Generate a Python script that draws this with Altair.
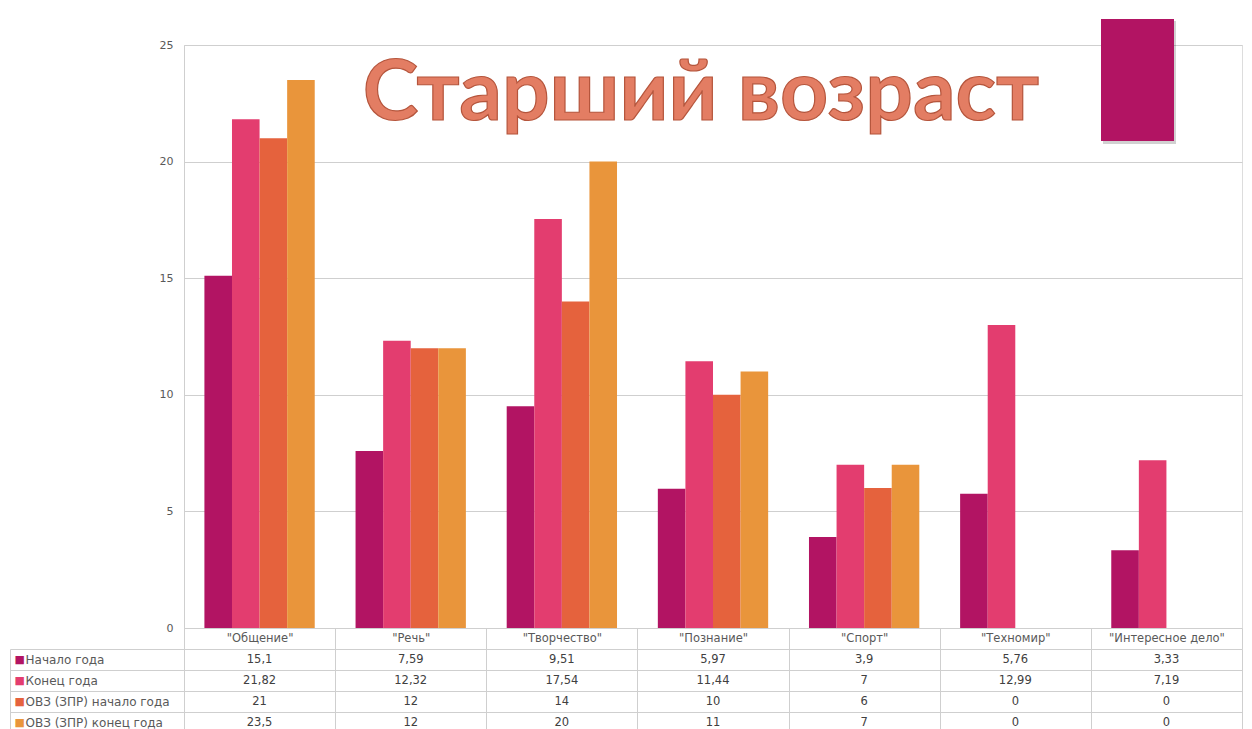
import altair as alt
import pandas as pd

# ---- data ----
categories = ['"Общение"', '"Речь"', '"Творчество"', '"Познание"', '"Спорт"', '"Техномир"', '"Интересное дело"']
series = ["Начало года", "Конец года", "ОВЗ (ЗПР) начало года", "ОВЗ (ЗПР) конец года"]
start_year = [15.1, 7.59, 9.51, 5.97, 3.9, 5.76, 3.33]
end_year = [21.82, 12.32, 17.54, 11.44, 7, 12.99, 7.19]
ovz_start = [21, 12, 14, 10, 6, 0, 0]
ovz_end = [23.5, 12, 20, 11, 7, 0, 0]
colors = ["#B21463", "#E33D6F", "#E5623D", "#E9953B"]
y_ticks = [0, 5, 10, 15, 20, 25]
title_text = "Старший возраст"

rows = []
for s, vals in zip(series, [start_year, end_year, ovz_start, ovz_end]):
    for c, v in zip(categories, vals):
        rows.append({"category": c, "series": s, "value": v,
                     "label": f"{v:g}".replace(".", ",")})
df = pd.DataFrame(rows)

FONT = "DejaVu Sans"
TFONT = "Lato"
GRID = "#CFCFCF"
LABEL = "#595959"
W = 1058
H = 583
ROW = 21

# ---- bar chart ----
bars = alt.Chart(df).mark_bar().encode(
    x=alt.X("category:N", sort=categories,
            scale=alt.Scale(paddingInner=0, paddingOuter=0),
            axis=alt.Axis(title=None, orient="bottom", tickBand="extent", tickSize=ROW,
                          tickColor=GRID, labelPadding=-17, labelAngle=0, labelFontSize=11.5,
                          labelColor=LABEL, labelFont=FONT, domain=False)),
    xOffset=alt.XOffset("series:N", sort=series,
                        scale=alt.Scale(paddingInner=0, paddingOuter=0.74)),
    y=alt.Y("value:Q", scale=alt.Scale(domain=[0, 25], nice=False),
            axis=alt.Axis(title=None, values=y_ticks, ticks=False, labelPadding=11,
                          grid=True, gridColor=GRID, domainColor=GRID,
                          labelColor=LABEL, labelFontSize=11, labelFont=FONT)),
    color=alt.Color("series:N", sort=series,
                    scale=alt.Scale(domain=series, range=colors), legend=None),
)

deco = pd.DataFrame({"t": [title_text]})
shadow = alt.Chart(deco).mark_rect(color="#000000", opacity=0.18).encode(
    x=alt.value(919), x2=alt.value(992), y=alt.value(-24), y2=alt.value(99))
box = alt.Chart(deco).mark_rect(color=colors[0]).encode(
    x=alt.value(917), x2=alt.value(990), y=alt.value(-26), y2=alt.value(96))
title = alt.Chart(deco).mark_text(
    font=TFONT, fontSize=84, fontWeight="bold", fill="#E37D63", stroke="#B5553C",
    strokeWidth=1.2, align="center", baseline="alphabetic").encode(
    text="t:N", x=alt.value(517), y=alt.value(75))

top = alt.layer(bars, shadow, box, title).properties(width=W, height=H)

# ---- data table ----
table_text = alt.Chart(df).mark_text(fontSize=11.5, color="#404040", font=FONT).encode(
    x=alt.X("category:N", sort=categories,
            scale=alt.Scale(paddingInner=0, paddingOuter=0),
            axis=alt.Axis(title=None, labels=False, ticks=False, domain=False, grid=True,
                          tickBand="extent", gridColor=GRID)),
    y=alt.Y("series:N", sort=series,
            scale=alt.Scale(domain=series, paddingInner=0, paddingOuter=0),
            axis=alt.Axis(title=None, orient="left", tickBand="extent", tickSize=174,
                          tickColor=GRID, grid=True, gridColor=GRID, domainColor=GRID,
                          labelAlign="left", labelPadding=-15, labelColor=LABEL,
                          labelFontSize=12, labelFont=FONT)),
    text="label:N",
)

sq_df = pd.DataFrame({"series": series})
squares = alt.Chart(sq_df).mark_point(opacity=0).encode(
    y=alt.Y("series:N", sort=series,
            scale=alt.Scale(domain=series, paddingInner=0, paddingOuter=0),
            axis=alt.Axis(title=None, orient="left", offset=174, ticks=False, grid=False,
                          domain=True, domainColor=GRID, labelExpr="'■'",
                          labelAlign="left", labelPadding=-4, labelFontSize=11,
                          labelFont="DejaVu Sans",
                          labelColor={"condition": [
                              {"test": f"datum.value === '{s}'", "value": c}
                              for s, c in zip(series, colors)], "value": LABEL})),
)

table = alt.layer(table_text, squares).resolve_axis(y="independent").properties(
    width=W, height=ROW * len(series))

chart = alt.vconcat(top, table, spacing=ROW, bounds="flush").properties(
    padding={"left": 1, "top": 10, "right": 0, "bottom": 0}
).configure_view(stroke=None).configure(background="white")

chart.save("out.html", embed_options={"renderer": "svg", "actions": False})
